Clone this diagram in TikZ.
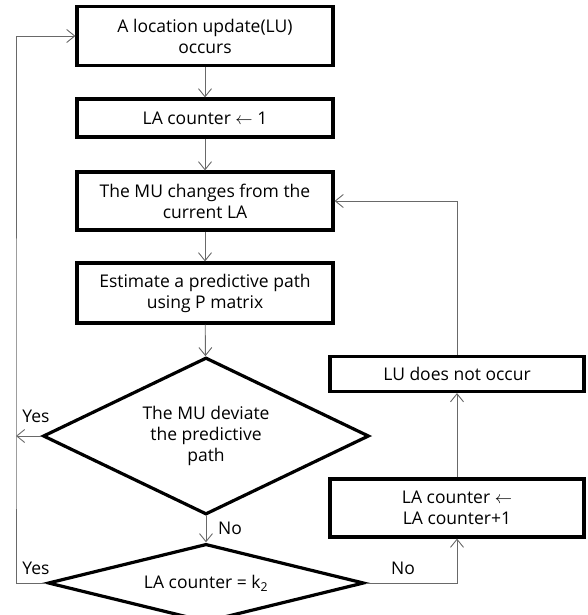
\documentclass[tikz,border=0pt]{standalone}
\usepackage{fontspec}
\setmainfont{Open Sans}
\usetikzlibrary{arrows.meta,shapes.geometric}

\definecolor{linegray}{RGB}{105,105,105}

\tikzset{
  procbox/.style={rectangle,draw,line width=3.2pt,minimum width=256pt,align=center},
  decbox/.style={diamond,draw,line width=3.2pt,shape aspect=2,inner sep=0pt,align=center},
  arr/.style={draw=linegray,line width=0.9pt,-{Straight Barb[length=8pt,width=13pt]}},
  lbl/.style={inner sep=0pt}
}

\begin{document}
\begin{tikzpicture}[x=1pt,y=-1pt,every node/.style={font=\fontsize{17.5}{21}\selectfont}]
  \useasboundingbox (0,0) rectangle (588,615);
  % main column
  \node[procbox,minimum height=59pt] (lu) at (205,36) {A location update(LU)\\occurs};
  \node[procbox,minimum height=38pt] (init) at (205,118) {LA counter $\leftarrow$ 1};
  \node[procbox,minimum height=58pt] (change) at (205,201) {The MU changes from the\\current LA};
  \node[procbox,minimum height=60pt] (est) at (205,293) {Estimate a predictive path\\using P matrix};
  \node[decbox,minimum width=326pt,minimum height=157pt] (dev) at (206,436) {The MU deviate\\the predictive\\path};
  \node[decbox,minimum width=316pt,minimum height=68pt] (cnt) at (206,583) {LA counter = k\textsubscript{2}};
  % right column
  \node[procbox,minimum width=254pt,minimum height=35pt,inner sep=2pt] (nolu) at (457,374) {LU does not occur};
  \node[procbox,minimum width=254pt,minimum height=58pt] (inc) at (457,508) {LA counter $\leftarrow$\\LA counter+1};
  \coordinate (rail) at (16,436);

  \foreach \a/\b in {lu/init,init/change,change/est,est/dev,dev/cnt,inc/nolu} {
    \draw[arr] (\a) -- (\b);
  }
  \draw[arr] (dev.west) -- (rail);
  \draw[arr] (cnt.west) -| (rail) |- (lu.west);
  \draw[arr] (cnt.east) -| (inc.south);
  \draw[arr] (nolu.north) |- (change.east);

  \node[lbl] (yes1) at (36,416) {Yes};
  \node[lbl] (no1) at (230,528) {No};
  \node[lbl] (yes2) at (36,568) {Yes};
  \node[lbl] (no2) at (403,568) {No};
\end{tikzpicture}
\end{document}
